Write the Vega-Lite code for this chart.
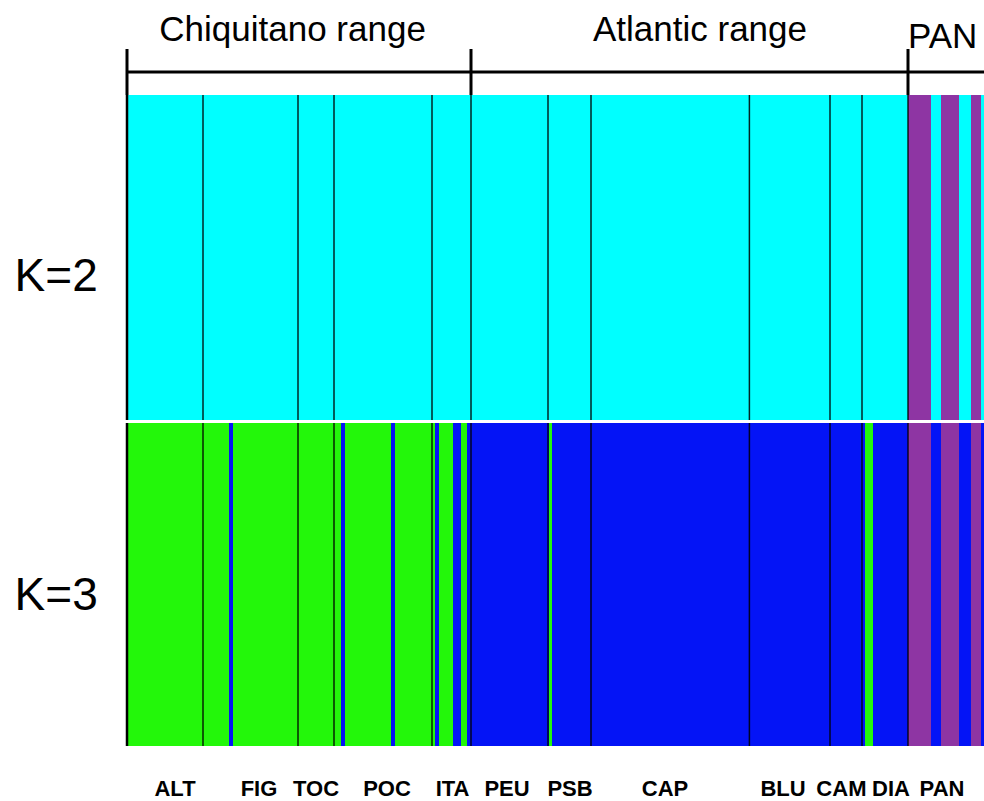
{
  "$schema": "https://vega.github.io/schema/vega-lite/v6.json",
  "padding": {"left": 14, "top": 10, "right": 0, "bottom": 0},
  "spacing": 0,
  "bounds": "flush",
  "config": {"view": {"stroke": null}, "font": "Liberation Sans"},
  "datasets": {
    "segments": [
      {"K": "K=2", "cluster": "1", "start": 0, "end": 195.25},
      {"K": "K=2", "cluster": "2", "start": 195.25, "end": 201},
      {"K": "K=2", "cluster": "1", "start": 201, "end": 203.5},
      {"K": "K=2", "cluster": "2", "start": 203.5, "end": 208},
      {"K": "K=2", "cluster": "1", "start": 208, "end": 211},
      {"K": "K=2", "cluster": "2", "start": 211, "end": 213.5},
      {"K": "K=2", "cluster": "1", "start": 213.5, "end": 214.25},
      {"K": "K=3", "cluster": "1", "start": 0, "end": 25.5},
      {"K": "K=3", "cluster": "2", "start": 25.5, "end": 26.5},
      {"K": "K=3", "cluster": "1", "start": 26.5, "end": 53.5},
      {"K": "K=3", "cluster": "2", "start": 53.5, "end": 54.5},
      {"K": "K=3", "cluster": "1", "start": 54.5, "end": 66},
      {"K": "K=3", "cluster": "2", "start": 66, "end": 67},
      {"K": "K=3", "cluster": "1", "start": 67, "end": 77},
      {"K": "K=3", "cluster": "2", "start": 77, "end": 78},
      {"K": "K=3", "cluster": "1", "start": 78, "end": 81.5},
      {"K": "K=3", "cluster": "2", "start": 81.5, "end": 83.5},
      {"K": "K=3", "cluster": "1", "start": 83.5, "end": 85},
      {"K": "K=3", "cluster": "2", "start": 85, "end": 105.5},
      {"K": "K=3", "cluster": "1", "start": 105.5, "end": 106.25},
      {"K": "K=3", "cluster": "2", "start": 106.25, "end": 184.5},
      {"K": "K=3", "cluster": "1", "start": 184.5, "end": 186.5},
      {"K": "K=3", "cluster": "2", "start": 186.5, "end": 195.25},
      {"K": "K=3", "cluster": "3", "start": 195.25, "end": 201},
      {"K": "K=3", "cluster": "2", "start": 201, "end": 203.5},
      {"K": "K=3", "cluster": "3", "start": 203.5, "end": 208},
      {"K": "K=3", "cluster": "2", "start": 208, "end": 211},
      {"K": "K=3", "cluster": "3", "start": 211, "end": 213.5},
      {"K": "K=3", "cluster": "2", "start": 213.5, "end": 214.25}
    ],
    "separators": [
      {"pos": 0}, {"pos": 19}, {"pos": 42.75}, {"pos": 51.75}, {"pos": 76.25},
      {"pos": 86}, {"pos": 105.25}, {"pos": 116}, {"pos": 155.6}, {"pos": 175.75},
      {"pos": 183.75}, {"pos": 195.25}
    ],
    "ranges": [
      {"name": "Chiquitano range", "start": 0, "end": 86, "labelpos": 41.4},
      {"name": "Atlantic range", "start": 86, "end": 195.25, "labelpos": 143.25},
      {"name": "PAN", "start": 195.25, "end": 214.25, "labelpos": 195.25}
    ],
    "pops": [
      {"pop": "ALT", "mid": 12}, {"pop": "FIG", "mid": 33}, {"pop": "TOC", "mid": 47.25},
      {"pop": "POC", "mid": 65}, {"pop": "ITA", "mid": 81.4}, {"pop": "PEU", "mid": 95},
      {"pop": "PSB", "mid": 110.75}, {"pop": "CAP", "mid": 134.5}, {"pop": "BLU", "mid": 164},
      {"pop": "CAM", "mid": 178.6}, {"pop": "DIA", "mid": 191}, {"pop": "PAN", "mid": 203.75}
    ]
  },
  "vconcat": [
    {
      "width": 857, "height": 39,
      "data": {"name": "ranges"},
      "layer": [
        {
          "transform": [{"filter": "datum.name !== 'PAN'"}],
          "mark": {"type": "text", "fontSize": 35, "align": "center", "baseline": "middle", "color": "black"},
          "encoding": {
            "x": {"field": "labelpos", "type": "quantitative", "scale": {"domain": [0, 214.25], "nice": false, "zero": false}, "axis": null},
            "text": {"field": "name"}
          }
        },
        {
          "transform": [{"filter": "datum.name === 'PAN'"}],
          "mark": {"type": "text", "fontSize": 35, "align": "left", "baseline": "middle", "dy": 7, "color": "black"},
          "encoding": {
            "x": {"field": "labelpos", "type": "quantitative", "scale": {"domain": [0, 214.25], "nice": false, "zero": false}, "axis": null},
            "text": {"field": "name"}
          }
        }
      ]
    },
    {
      "width": 857, "height": 46,
      "data": {"name": "ranges"},
      "layer": [
        {
          "mark": {"type": "rule", "strokeWidth": 3, "color": "black"},
          "encoding": {
            "x": {"field": "start", "type": "quantitative", "scale": {"domain": [0, 214.25], "nice": false, "zero": false}, "axis": null},
            "x2": {"field": "end"}
          }
        },
        {
          "mark": {"type": "rule", "strokeWidth": 3, "color": "black"},
          "encoding": {
            "x": {"field": "start", "type": "quantitative", "scale": {"domain": [0, 214.25], "nice": false, "zero": false}, "axis": null}
          }
        }
      ]
    },
    {
      "spacing": 3,
      "bounds": "flush",
      "resolve": {"scale": {"color": "independent"}},
      "vconcat": [
        {
          "width": 857, "height": 325,
          "title": {"text": "K=2", "orient": "left", "angle": 0, "align": "left", "baseline": "middle", "anchor": "middle", "fontSize": 46, "fontWeight": "normal", "font": "Liberation Sans", "color": "black", "offset": 28, "dy": 19},
          "layer": [
            {
              "data": {"name": "segments"},
              "transform": [{"filter": "datum.K === 'K=2'"}],
              "mark": {"type": "rect"},
              "encoding": {
                "x": {"field": "start", "type": "quantitative", "scale": {"domain": [0, 214.25], "nice": false, "zero": false}, "axis": null},
                "x2": {"field": "end"},
                "color": {"field": "cluster", "type": "nominal", "scale": {"domain": ["1", "2"], "range": ["#00FFFF", "#8E35A3"]}, "legend": null}
              }
            },
            {
              "data": {"name": "separators"},
              "transform": [{"filter": "datum.pos > 0"}],
              "mark": {"type": "rule", "color": "black", "strokeWidth": 1.5, "opacity": 0.85},
              "encoding": {
                "x": {"field": "pos", "type": "quantitative", "scale": {"domain": [0, 214.25], "nice": false, "zero": false}, "axis": null}
              }
            },
            {
              "data": {"name": "separators"},
              "transform": [{"filter": "datum.pos === 0"}],
              "mark": {"type": "rule", "color": "black", "strokeWidth": 2.5},
              "encoding": {
                "x": {"field": "pos", "type": "quantitative", "scale": {"domain": [0, 214.25], "nice": false, "zero": false}, "axis": null}
              }
            }
          ]
        },
        {
          "width": 857, "height": 323,
          "title": {"text": "K=3", "orient": "left", "angle": 0, "align": "left", "baseline": "middle", "anchor": "middle", "fontSize": 46, "fontWeight": "normal", "font": "Liberation Sans", "color": "black", "offset": 28, "dy": 11},
          "layer": [
            {
              "data": {"name": "segments"},
              "transform": [{"filter": "datum.K === 'K=3'"}],
              "mark": {"type": "rect"},
              "encoding": {
                "x": {"field": "start", "type": "quantitative", "scale": {"domain": [0, 214.25], "nice": false, "zero": false}, "axis": null},
                "x2": {"field": "end"},
                "color": {"field": "cluster", "type": "nominal", "scale": {"domain": ["1", "2", "3"], "range": ["#23F70A", "#0414F6", "#8E35A3"]}, "legend": null}
              }
            },
            {
              "data": {"name": "separators"},
              "transform": [{"filter": "datum.pos > 0"}],
              "mark": {"type": "rule", "color": "black", "strokeWidth": 1.5, "opacity": 0.85},
              "encoding": {
                "x": {"field": "pos", "type": "quantitative", "scale": {"domain": [0, 214.25], "nice": false, "zero": false}, "axis": null}
              }
            },
            {
              "data": {"name": "separators"},
              "transform": [{"filter": "datum.pos === 0"}],
              "mark": {"type": "rule", "color": "black", "strokeWidth": 2.5},
              "encoding": {
                "x": {"field": "pos", "type": "quantitative", "scale": {"domain": [0, 214.25], "nice": false, "zero": false}, "axis": null}
              }
            }
          ]
        },
        {
          "width": 857, "height": 80,
          "data": {"name": "pops"},
          "mark": {"type": "text", "fontSize": 22, "fontWeight": "bold", "align": "center", "baseline": "middle", "color": "black"},
          "encoding": {
            "x": {"field": "mid", "type": "quantitative", "scale": {"domain": [0, 214.25], "nice": false, "zero": false}, "axis": null},
            "text": {"field": "pop"}
          }
        }
      ]
    }
  ]
}
